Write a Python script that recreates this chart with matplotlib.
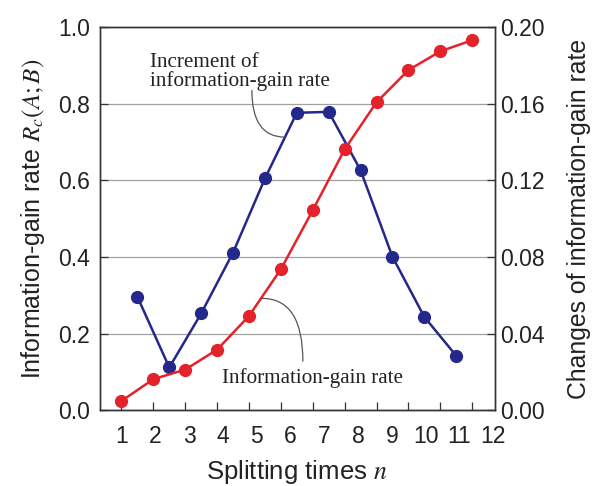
import matplotlib.pyplot as plt

plt.rcParams['font.family'] = ['Liberation Sans', 'DejaVu Sans']
plt.rcParams['mathtext.fontset'] = 'stix'

# red curve: information-gain rate (left axis), at n = 1..12
n_rate = [1, 2, 3, 4, 5, 6, 7, 8, 9, 10, 11, 12]
rate = [0.024, 0.081, 0.106, 0.158, 0.246, 0.368, 0.522, 0.681, 0.804, 0.888, 0.937, 0.966]

# blue curve: increment of information-gain rate (right axis), between splits
n_inc = [1.5, 2.5, 3.5, 4.5, 5.5, 6.5, 7.5, 8.5, 9.5, 10.5, 11.5]
increment = [0.0592, 0.0223, 0.0505, 0.0823, 0.121, 0.1553, 0.1558, 0.1253, 0.0801, 0.0487, 0.0284]

xticks = list(range(1, 13))
xticklabels = [str(v) for v in xticks]
left_ticks = [0.0, 0.2, 0.4, 0.6, 0.8, 1.0]
right_ticks = [0.00, 0.04, 0.08, 0.12, 0.16, 0.20]

red = '#e3222b'
blue = '#23288a'
spine_col = '#333333'
txt_col = '#222222'

fig = plt.figure(figsize=(5.94, 4.86), dpi=100)
ax1 = fig.add_axes([0.168, 0.156, 0.665, 0.788])
ax2 = ax1.twinx()

# keep red on top of blue, grid behind both
ax1.set_zorder(2)
ax1.patch.set_visible(False)

ax2.plot(n_inc, increment, color=blue, lw=1.8, marker='o', ms=8.5, zorder=3)
ax1.plot(n_rate, rate, color=red, lw=1.8, marker='o', ms=8.5, zorder=3)

ax1.set_xlim(0.32, 12.71)
ax1.set_ylim(0, 1.0)
ax2.set_ylim(0, 0.2)

# tick marks at each n; the labels in the original drift a bit wider than the marks
ax1.xaxis.remove_overlapping_locs = False
ax1.set_xticks(xticks)
ax1.set_xticklabels([])
ax1.set_xticks([1 + (v - 1) * 1.06 for v in xticks], minor=True)
ax1.set_xticklabels(xticklabels, minor=True)
ax1.tick_params(axis='x', which='minor', length=0, pad=11, labelsize=16.5, labelcolor=txt_col)

ax1.set_yticks(left_ticks)
ax1.set_yticklabels([f"{v:.1f}" for v in left_ticks])
ax2.set_yticks(right_ticks)
ax2.set_yticklabels([f"{v:.2f}" for v in right_ticks])

ax2.grid(axis='y', color='#a0a0a0', lw=0.9)
ax2.set_axisbelow(True)

for ax in (ax1, ax2):
    ax.tick_params(which='major', direction='in', length=6, width=0.9, colors=spine_col,
                   labelsize=16.5, labelcolor=txt_col)
    for s in ax.spines.values():
        s.set_color(spine_col)
        s.set_linewidth(1.0)
ax1.tick_params(axis='y', pad=7)

ax1.set_xlabel('Splitting times $n$', fontsize=18.5, color=txt_col, labelpad=7)
ax1.set_ylabel('Information-gain rate $R_c(A;B)$', fontsize=18, color=txt_col, labelpad=8)
ax2.set_ylabel('Changes of information-gain rate', fontsize=17.8, color=txt_col, labelpad=16)

serif = ['Liberation Serif', 'DejaVu Serif']
ax1.text(1.89, 0.847, 'Increment of\ninformation-gain rate', family=serif, fontsize=15.2,
         color=txt_col, va='baseline', linespacing=0.95)
ax1.text(4.15, 0.071, 'Information-gain rate', family=serif, fontsize=15.2, color=txt_col, va='baseline')

conn = dict(arrowstyle='-', color='#555555', lw=0.9, shrinkA=0, shrinkB=0)
ax1.annotate('', xy=(6.12, 0.713), xytext=(5.09, 0.835),
             arrowprops=dict(conn, connectionstyle='angle3,angleA=90,angleB=0'))
ax1.annotate('', xy=(5.40, 0.292), xytext=(6.69, 0.128),
             arrowprops=dict(conn, connectionstyle='angle3,angleA=90,angleB=0'))

fig.savefig('out.png', dpi=100)
